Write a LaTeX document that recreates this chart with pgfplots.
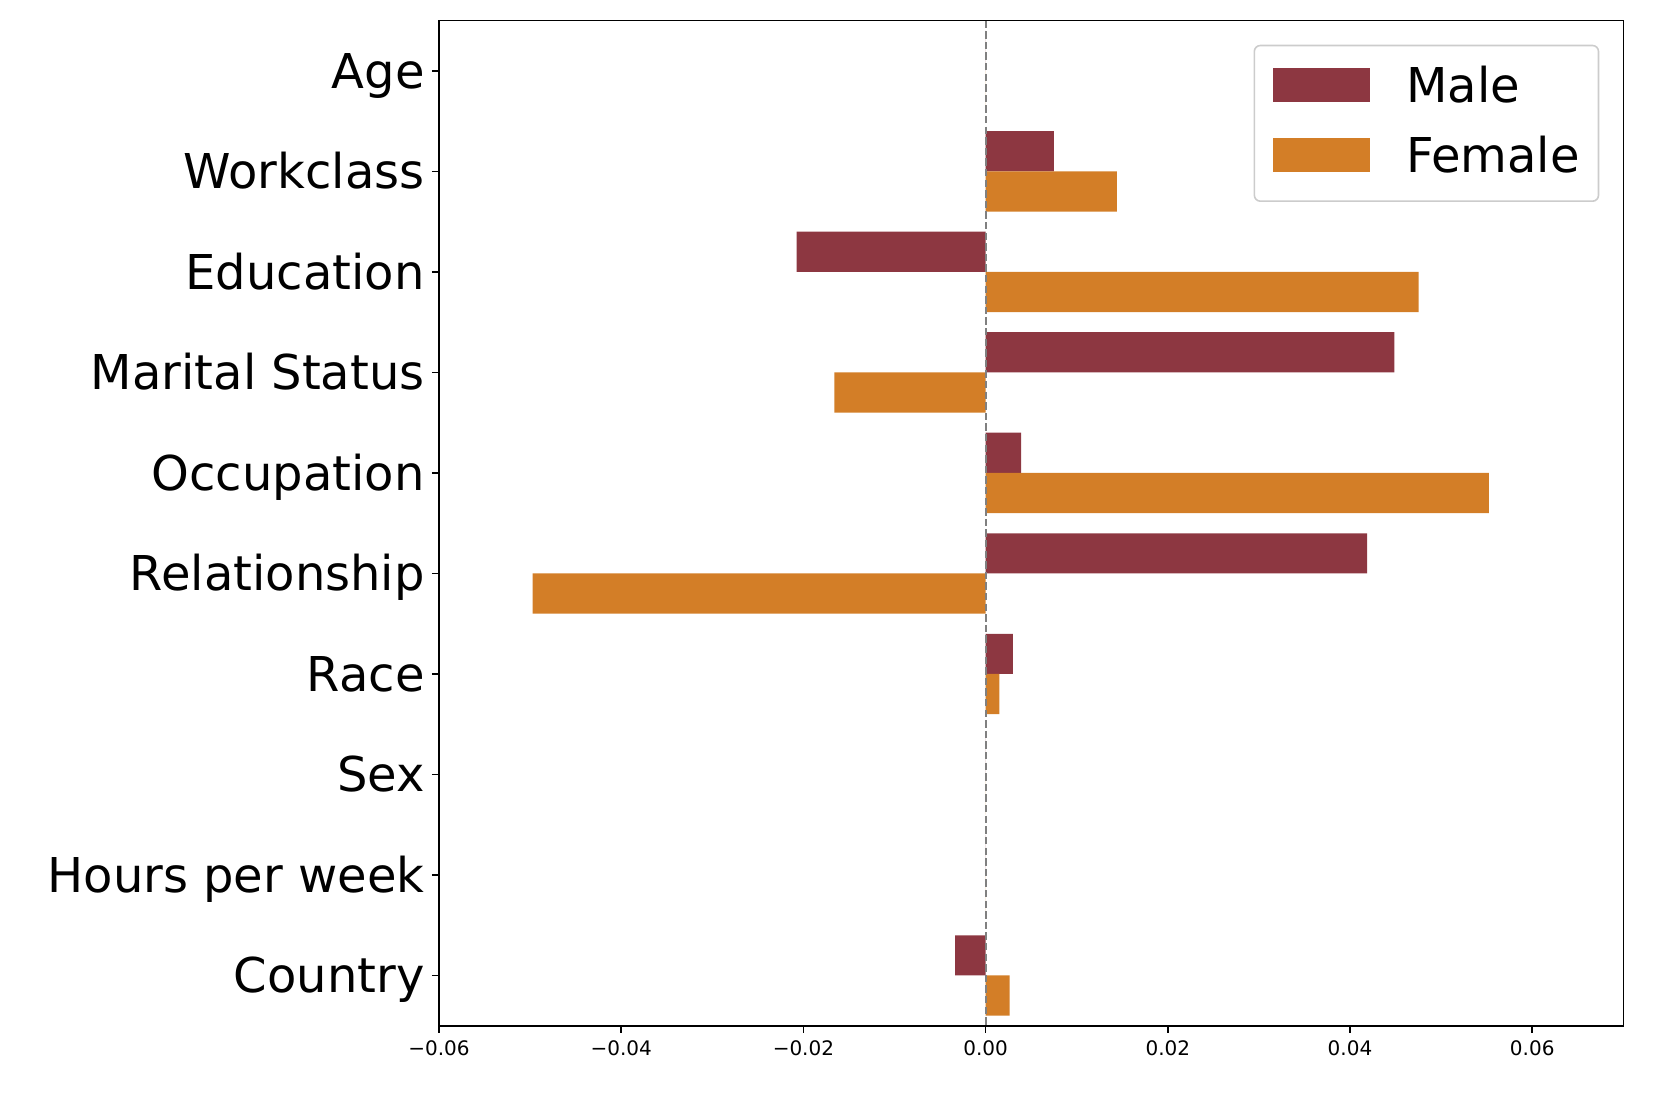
\documentclass[border=0pt]{standalone}
\usepackage{fontspec}
\setmainfont{DejaVu Sans}
\usepackage{pgfplots}
\pgfplotsset{compat=1.18}

\definecolor{male}{RGB}{141,55,65}
\definecolor{female}{RGB}{211,126,39}

% y positions: 0 = Age ... 9 = Country (axis reversed)
\pgfplotstableread{
y   male      female
0   0         0
1   0.00750   0.01442
2  -0.02075   0.04753
3   0.04486  -0.01661
4   0.00390   0.05525
5   0.04189  -0.04973
6   0.00300   0.00150
7   0         0
8   0         0
9  -0.00334   0.00264
}\bars

\begin{document}
\begin{tikzpicture}
\useasboundingbox (-219.5pt,-40.65pt) rectangle (611pt,512.85pt);
\begin{axis}[
    at={(0,0)}, anchor=south west,
    scale only axis,
    width=592.15pt, height=502.5pt,
    xmin=-0.06, xmax=0.07,
    ymin=-0.5, ymax=9.5,
    y dir=reverse,
    scaled x ticks=false,
    xtick={-0.06,-0.04,-0.02,0,0.02,0.04,0.06},
    xticklabels={−0.06,−0.04,−0.02,0.00,0.02,0.04,0.06},
    ytick={0,1,2,3,4,5,6,7,8,9},
    yticklabels={Age,Workclass,Education,Marital Status,Occupation,Relationship,Race,Sex,Hours per week,Country},
    tick pos=left,
    tick align=outside,
    major tick length=3.5pt,
    every tick/.style={black, line width=0.8pt},
    axis line style={line width=0.8pt},
    xticklabel style={font=\fontsize{10}{12}\selectfont, inner sep=0pt, yshift=-3.85pt},
    yticklabel style={font=\fontsize{24}{29}\selectfont, inner sep=0pt, xshift=-3.5pt,
                      text height=17.5pt, text depth=0pt},
    legend cell align=left,
    legend style={
        at={(1,1)}, anchor=north east, xshift=-12pt, yshift=-12pt,
        draw=black!20, line width=0.8pt, rounded corners=3pt,
        inner xsep=9.4pt, inner ysep=10.9pt,
        column sep=18.2pt, row sep=17.8pt,
        nodes={inner sep=0pt, text height=17.5pt, text depth=0pt,
               font=\fontsize{24}{29}\selectfont},
    },
]
\addplot[xbar, bar width=0.4, bar shift=-0.2, fill=male, draw=none,
    legend image code/.code={\fill[male, sharp corners] (0pt,-8.5pt) rectangle (48.3pt,8.5pt);}]
    table[x=male, y=y] {\bars};
\addlegendentry{Male}
\addplot[xbar, bar width=0.4, bar shift=0.2, fill=female, draw=none,
    legend image code/.code={\fill[female, sharp corners] (0pt,-8.5pt) rectangle (48.3pt,8.5pt);
                             \path (0pt,-12pt);}]
    table[x=female, y=y] {\bars};
\addlegendentry{Female}
\addplot[gray, line width=1pt, dash pattern=on 3.7pt off 1.6pt, forget plot]
    coordinates {(0,-0.5) (0,9.5)};
\end{axis}
\end{tikzpicture}
\end{document}
